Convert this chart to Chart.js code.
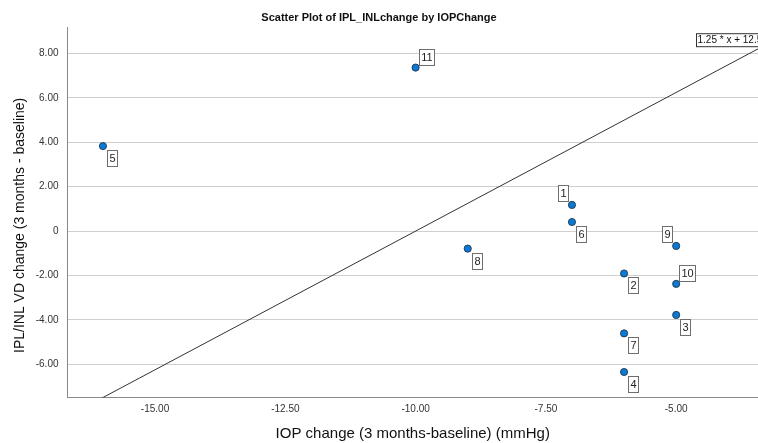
<!DOCTYPE html>
<html lang="en">
<head>
    <meta charset="UTF-8">
    <title>Scatter Plot of IPL_INLchange by IOPChange</title>
    <script src="https://cdn.jsdelivr.net/npm/chart.js"></script>
    <style>
        body { margin: 0; background: #ffffff; }
        #wrap { width: 758px; height: 443px; }
    </style>
</head>
<body>
    <div id="wrap"><canvas id="scatterChart" width="758" height="443"></canvas></div>

    <script>
        // case numbers and values
        const caseIds = ['1', '2', '3', '4', '5', '6', '7', '8', '9', '10', '11'];
        const iopChange = [-7, -6, -5, -6, -16, -7, -6, -9, -5, -5, -10];
        const iplInlChange = [1.18, -1.91, -3.78, -6.35, 3.83, 0.41, -4.61, -0.79, -0.67, -2.38, 7.37];
        const fitSlope = 1.25;
        const fitIntercept = 12.5;
        const fitLabel = '1.25 * x + 12.5';
        const xTicks = [-15, -12.5, -10, -7.5, -5];
        const yTicks = [-6, -4, -2, 0, 2, 4, 6, 8];
        const xRange = [-16.68, -3.43];
        const yRange = [-7.5, 9.19];

        const fitLine = xRange.map(x => ({ x: x, y: fitSlope * x + fitIntercept }));
        const points = caseIds.map((id, i) => ({ x: iopChange[i], y: iplInlChange[i], id: id }));

        const fontFam = "Arial, 'Liberation Sans', sans-serif";
        const fmt = v => (v === 0 ? '0' : v.toFixed(2));
        const yTitle = 'IPL/INL VD change (3 months - baseline)';

        // where each case label sits relative to its marker
        const labelSide = { '1': 'ul', '9': 'ul', '10': 'ur', '11': 'ur' };

        const caseLabels = {
            id: 'caseLabels',
            afterDatasetsDraw(chart) {
                const { ctx, scales: { x, y }, chartArea } = chart;
                ctx.save();
                ctx.font = '11px ' + fontFam;
                ctx.textAlign = 'center';
                ctx.textBaseline = 'middle';
                ctx.lineWidth = 1;
                points.forEach(p => {
                    const px = x.getPixelForValue(p.x);
                    const py = y.getPixelForValue(p.y);
                    const w = Math.round(ctx.measureText(p.id).width) + 4;
                    const h = 16;
                    const side = labelSide[p.id] || 'lr';
                    let bx, by;
                    if (side === 'ul') { bx = px - 4 - w; by = py - 4 - h; }
                    else if (side === 'ur') { bx = px + 3; by = py - 3 - h; }
                    else { bx = px + 4; by = py + 4; }
                    bx = Math.round(bx) + 0.5; by = Math.round(by) + 0.5;
                    ctx.fillStyle = '#ffffff';
                    ctx.fillRect(bx, by, w, h);
                    ctx.strokeStyle = '#6e6e6e';
                    ctx.strokeRect(bx, by, w, h);
                    ctx.fillStyle = '#222222';
                    ctx.fillText(p.id, bx + w / 2, by + h / 2 + 0.5);
                });

                // fit line equation box, top right (runs off the edge as in the original)
                ctx.font = '10px ' + fontFam;
                ctx.textAlign = 'left';
                const tw = ctx.measureText(fitLabel).width + 4;
                const ex = chartArea.right - 61.5, ey = chartArea.top + 6.5;
                ctx.fillStyle = '#ffffff';
                ctx.fillRect(ex, ey, tw, 13);
                ctx.strokeStyle = '#333333';
                ctx.strokeRect(ex, ey, tw, 13);
                ctx.fillStyle = '#111111';
                ctx.fillText(fitLabel, ex + 1, ey + 7);

                // y axis title, sits a little below the axis middle
                ctx.font = '14px ' + fontFam;
                ctx.textAlign = 'center';
                ctx.translate(20, (chartArea.top + chartArea.bottom) / 2 + 13);
                ctx.rotate(-Math.PI / 2);
                ctx.fillText(yTitle, 0, 0);
                ctx.restore();
            }
        };

        new Chart(document.getElementById('scatterChart'), {
            type: 'scatter',
            data: {
                datasets: [
                    {
                        type: 'line',
                        data: fitLine,
                        borderColor: '#333333',
                        borderWidth: 1,
                        pointRadius: 0,
                        fill: false,
                        order: 2
                    },
                    {
                        data: points,
                        backgroundColor: '#0b7ad6',
                        borderColor: '#1d2a36',
                        borderWidth: 0.8,
                        pointRadius: 3.6,
                        order: 1
                    }
                ]
            },
            options: {
                responsive: false,
                animation: false,
                devicePixelRatio: 1,
                layout: { padding: 0, autoPadding: false },
                plugins: {
                    legend: { display: false },
                    tooltip: { enabled: false },
                    title: {
                        display: true,
                        text: 'Scatter Plot of IPL_INLchange by IOPChange',
                        color: '#111111',
                        font: { family: fontFam, size: 11, weight: 'bold' },
                        padding: { top: 11, bottom: 3 }
                    }
                },
                scales: {
                    x: {
                        type: 'linear',
                        min: xRange[0],
                        max: xRange[1],
                        afterBuildTicks: s => { s.ticks = xTicks.map(v => ({ value: v })); },
                        afterFit: s => { s.height = 45.5; },
                        grid: { display: false, drawTicks: false },
                        border: { display: true, color: '#8a8a8a', width: 1 },
                        ticks: {
                            callback: v => fmt(v),
                            color: '#333333',
                            font: { family: fontFam, size: 10 },
                            padding: 6,
                            maxRotation: 0
                        },
                        title: {
                            display: true,
                            text: 'IOP change (3 months-baseline) (mmHg)',
                            color: '#111111',
                            font: { family: fontFam, size: 15 },
                            padding: { top: 0, bottom: 0 }
                        }
                    },
                    y: {
                        type: 'linear',
                        min: yRange[0],
                        max: yRange[1],
                        afterBuildTicks: s => { s.ticks = yTicks.map(v => ({ value: v })); },
                        afterFit: s => { s.width = 67.5; },
                        grid: { display: true, drawTicks: false, color: '#cfcfcf', lineWidth: 1 },
                        border: { display: true, color: '#8a8a8a', width: 1 },
                        ticks: {
                            callback: v => fmt(v),
                            color: '#333333',
                            font: { family: fontFam, size: 10 },
                            padding: 9
                        }
                    }
                }
            },
            plugins: [caseLabels]
        });
    </script>
</body>
</html>
